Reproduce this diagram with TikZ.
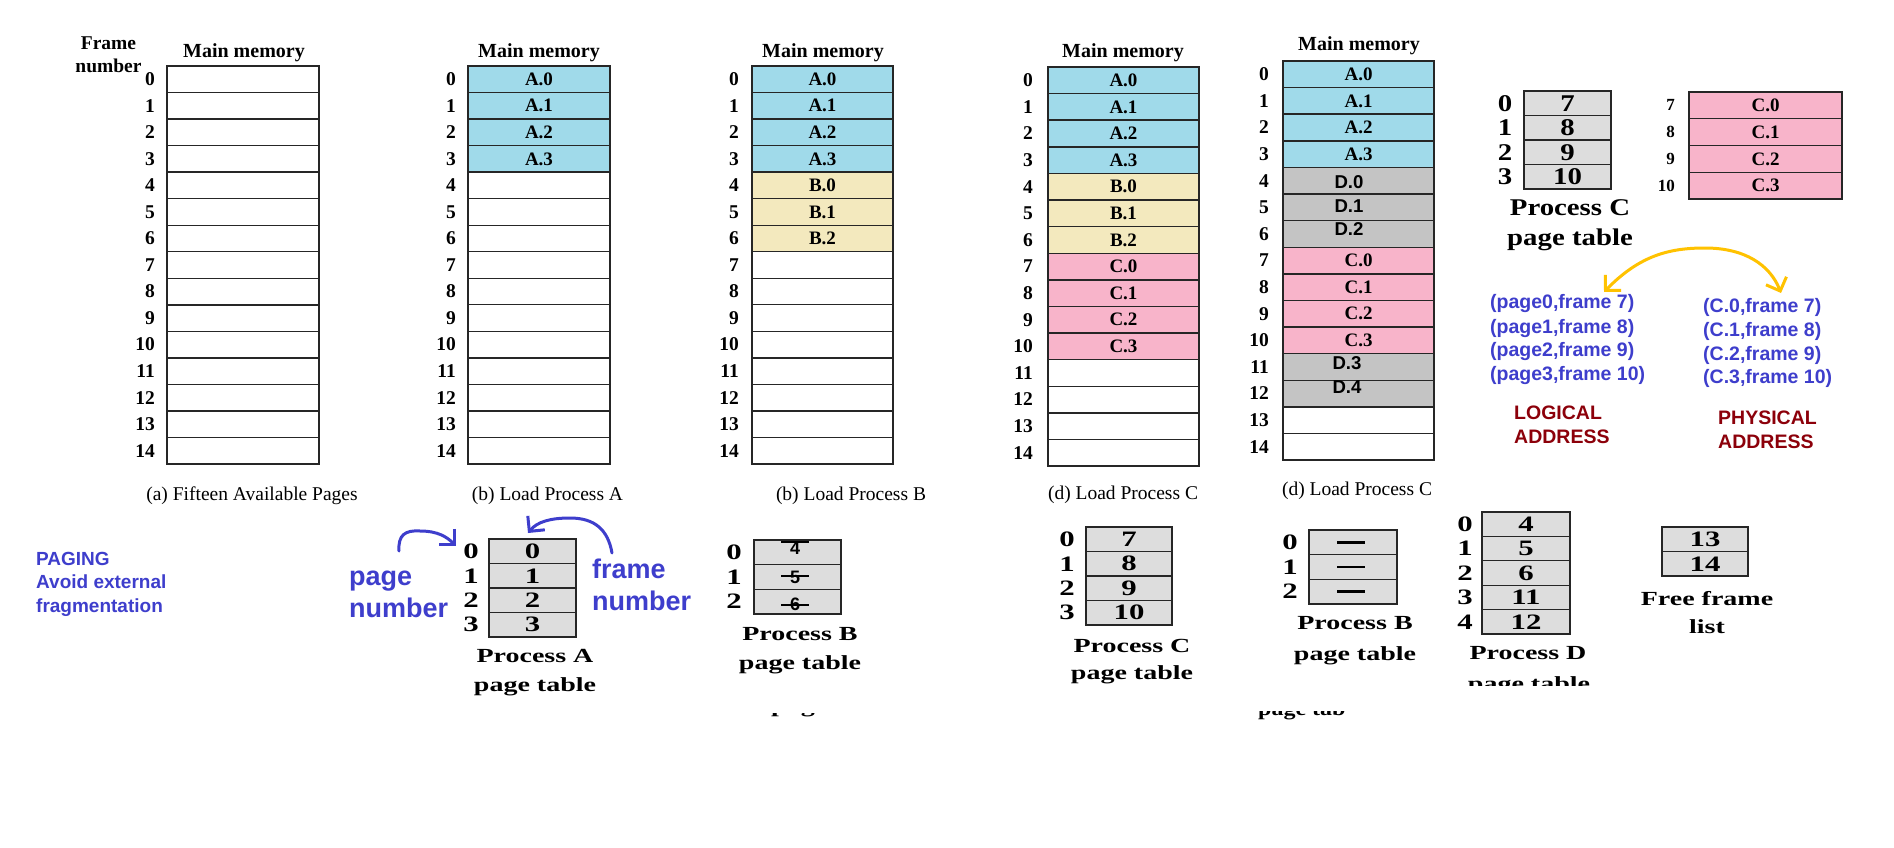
\documentclass[tikz,border=0pt]{standalone}
\usepackage{fontspec}
\setmainfont{Liberation Serif}
\newfontfamily\arialf{Liberation Sans}
\newfontfamily\widef[FakeStretch=1.4]{Liberation Serif}
\newfontfamily\midf[FakeStretch=1.2]{Liberation Serif}
\usetikzlibrary{arrows.meta}
\definecolor{cA}{RGB}{160,218,234}
\definecolor{cB}{RGB}{243,233,190}
\definecolor{cC}{RGB}{248,180,202}
\definecolor{cD}{RGB}{196,196,196}
\definecolor{ptg}{RGB}{221,221,221}
\definecolor{hblue}{RGB}{62,62,204}
\definecolor{dred}{RGB}{140,0,10}
\definecolor{hyel}{RGB}{255,194,0}
\newcommand\fs[2]{\fontsize{#1}{#2}\selectfont}
\begin{document}
\begin{tikzpicture}[x=1pt,y=-1pt,
  mem/.style={draw=black!85, line width=1.4pt, inner sep=0pt, minimum height=26.55pt, font=\fs{19}{20}\bfseries},
  num/.style={anchor=east, inner sep=0pt, font=\fs{19.5}{20}\bfseries},
  title/.style={font=\fs{20}{22}\bfseries},
  captxt/.style={font=\fs{19.5}{22}},
  pt/.style={draw=black!85, line width=1.3pt, fill=ptg, inner sep=0pt, minimum width=87pt, minimum height=24.5pt, font=\widef\fs{22}{22}\bfseries},
  ptn/.style={inner sep=0pt, font=\widef\fs{22}{22}\bfseries},
  ptl/.style={align=center, font=\widef\fs{20}{29}\bfseries},
  btxt/.style={text=hblue, font=\arialf\bfseries\fs{19.5}{24}, anchor=west, inner sep=0pt, align=left},
  dlab/.style={font=\arialf\bfseries\fs{18.6}{20}, inner sep=0pt},
  barrow/.style={draw=hblue, line width=3pt, line cap=round, -{Straight Barb[length=11pt,width=22pt]}},
  yarrow/.style={draw=hyel, line width=3pt, line cap=round, {Straight Barb[length=11pt,width=22pt]}-{Straight Barb[length=11pt,width=22pt]}}
]
\fill[white] (0,0) rectangle (1894,848);
\useasboundingbox (0,0) rectangle (1894,848);

% ---------- column (a)
\node[title, align=center, font=\fs{19.5}{23}\bfseries] (fn) at (108.5,55) {Frame\\number};
\node[title] (ta) at (244,53) {Main memory};
\foreach \i in {0,...,14}{
  \node[mem, minimum width=152pt] (ma\i) at (243, 79.3+\i*26.53) {};
  \node[num] (na\i) at (155, 79.3+\i*26.53) {\i};
}
\node[captxt] (capa) at (252,496) {(a) Fifteen Available Pages};

% ---------- column (b) A
\node[title] (tb) at (539,53) {Main memory};
\foreach \i in {0,...,14}{
  \ifnum\i<4 \def\mf{cA}\def\mt{A.\i}\else\def\mf{white}\def\mt{}\fi
  \node[mem, fill=\mf, minimum width=142pt] (mb\i) at (539, 79.3+\i*26.53) {\mt};
  \node[num] (nb\i) at (456, 79.3+\i*26.53) {\i};
}
\node[captxt] (capb) at (547.5,496) {(b) Load Process A};

% ---------- column (b) B
\node[title] (tbb) at (823,53) {Main memory};
\foreach \i in {0,...,14}{
  \pgfmathtruncatemacro\k{\i-4}
  \ifnum\i<4 \def\mf{cA}\def\mt{A.\i}\else\ifnum\i<7 \def\mf{cB}\def\mt{B.\k}\else\def\mf{white}\def\mt{}\fi\fi
  \node[mem, fill=\mf, minimum width=141pt] (mbb\i) at (822.5, 79.3+\i*26.53) {\mt};
  \node[num] (nbb\i) at (739, 79.3+\i*26.53) {\i};
}
\node[captxt] (capbb) at (851,496) {(b) Load Process B};

% ---------- column (d) C
\node[title] (tc) at (1123,53) {Main memory};
\foreach \i in {0,...,14}{
  \pgfmathtruncatemacro\k{\i-4}
  \pgfmathtruncatemacro\kk{\i-7}
  \ifnum\i<4 \def\mf{cA}\def\mt{A.\i}\else\ifnum\i<7 \def\mf{cB}\def\mt{B.\k}\else\ifnum\i<11 \def\mf{cC}\def\mt{C.\kk}\else\def\mf{white}\def\mt{}\fi\fi\fi
  \node[mem, fill=\mf, minimum width=151pt, minimum height=26.6pt] (mc\i) at (1123.5, 80.3+\i*26.6) {\mt};
  \node[num] (nc\i) at (1033, 80.3+\i*26.6) {\i};
}
\node[captxt] (capc) at (1123,495) {(d) Load Process C};

% ---------- column (d) D
\node[title] (td) at (1359,46) {Main memory};
\foreach \i in {0,...,14}{
  \pgfmathtruncatemacro\kk{\i-7}
  \ifnum\i<4 \def\mf{cA}\def\mt{A.\i}\else\ifnum\i<7 \def\mf{cD}\def\mt{}\else\ifnum\i<11 \def\mf{cC}\def\mt{C.\kk}\else\ifnum\i<13 \def\mf{cD}\def\mt{}\else\def\mf{white}\def\mt{}\fi\fi\fi\fi
  \node[mem, fill=\mf, minimum width=151pt, minimum height=26.6pt] (md\i) at (1358.5, 74.3+\i*26.6) {\mt};
  \node[num] (nd\i) at (1269, 74.3+\i*26.6) {\i};
}
\node[dlab] (d0) at (1349,182) {D.0};
\node[dlab] (d1) at (1349,206) {D.1};
\node[dlab] (d2) at (1349,229) {D.2};
\node[dlab] (d3) at (1347,363) {D.3};
\node[dlab] (d4) at (1347,387) {D.4};
\node[captxt] (capd) at (1357,491) {(d) Load Process C};

% ---------- top right: process C page table
\foreach \i/\v in {0/7,1/8,2/9,3/10}{
  \node[pt, font=\midf\fs{24}{24}\bfseries] (tpc\i) at (1567.5, 103.25+\i*24.5) {\v};
  \node[ptn, font=\midf\fs{24}{24}\bfseries] (tpn\i) at (1505, 103.25+\i*24.5) {\i};
}
\node[ptl, font=\midf\fs{24}{30}\bfseries] (tpl) at (1570,225) {Process C\\page table};

% ---------- top right: C frames
\foreach \i in {0,...,3}{
  \pgfmathtruncatemacro\f{\i+7}
  \node[mem, fill=cC, minimum width=153pt, minimum height=26.75pt] (tcc\i) at (1765.5, 105.4+\i*26.75) {C.\i};
  \node[num, font=\fs{17}{18}\bfseries] (tcn\i) at (1675, 105.4+\i*26.75) {\f};
}

% ---------- logical / physical
\coordinate (ya) at (1604,292);
\coordinate (yb) at (1781,293);
\draw[yarrow] (ya) .. controls (1640,255) and (1670,248) .. (1705,248) .. controls (1745,248) and (1770,265) .. (yb);
\foreach \i/\y in {0/303,1/328,2/351,3/375}{
  \pgfmathtruncatemacro\f{\i+7}
  \node[btxt] (lg\i) at (1490,\y) {(page\i,frame \f)};
}
\foreach \i/\y in {0/307,1/331,2/355,3/378}{
  \pgfmathtruncatemacro\f{\i+7}
  \node[btxt] (ph\i) at (1703,\y) {(C.\i,frame \f)};
}
\node[btxt, text=dred] (lgl) at (1514,425) {LOGICAL\\ADDRESS};
\node[btxt, text=dred] (phl) at (1718,430) {PHYSICAL\\ADDRESS};

% ---------- PAGING note
\node[btxt, font=\arialf\bfseries\fs{19}{23.5}] (paging) at (36,584) {PAGING\\Avoid external\\fragmentation};

% ---------- process A page table
\foreach \i in {0,...,3}{
  \node[pt] (pa\i) at (532.5, 551.25+\i*24.5) {\i};
  \node[ptn] (pan\i) at (471, 551.25+\i*24.5) {\i};
}
\node[ptl] (pal) at (535,673) {Process A\\page table};
\node[btxt, font=\arialf\bfseries\fs{27}{32}] (pnum) at (349,594) {page\\number};
\node[btxt, font=\arialf\bfseries\fs{27}{32}] (fnum) at (592,585) {frame\\number};
\coordinate (pnA) at (399,551);
\coordinate (pnB) at (456,546);
\draw[barrow] (pnA) .. controls (398,535) and (405,530) .. (420,531) .. controls (438,531) and (447,537) .. (pnB);
\coordinate (fnA) at (612,553);
\coordinate (fnB) at (528,533);
\draw[barrow] (fnA) .. controls (608,530) and (595,518) .. (570,518) .. controls (550,518) and (537,522) .. (fnB);

% ---------- process B page table (crossed)
\foreach \i in {0,...,2}{
  \node[pt, minimum height=24.67pt] (pb\i) at (797.5, 552.33+\i*24.67) {};
  \node[ptn] (pbn\i) at (734, 552.33+\i*24.67) {\i};
}
\node[dlab, font=\arialf\bfseries\fs{18}{18}] (pbv0) at (795,548) {4};
\node[dlab, font=\arialf\bfseries\fs{18}{18}] (pbv1) at (795,577) {5};
\node[dlab, font=\arialf\bfseries\fs{18}{18}] (pbv2) at (795,604) {6};
\draw[line width=1.6pt] ([xshift=-14pt,yshift=6pt]pbv0.center) -- ++(28,0);
\draw[line width=1.6pt] ([xshift=-14pt,yshift=1pt]pbv1.center) -- ++(28,0);
\draw[line width=1.6pt] ([xshift=-14pt,yshift=-1pt]pbv2.center) -- ++(28,0);
\node[ptl] (pbl) at (800,651) {Process B\\page table};

% ---------- process C page table
\foreach \i/\v in {0/7,1/8,2/9,3/10}{
  \node[pt, minimum width=86pt] (pc\i) at (1129, 539.25+\i*24.5) {\v};
  \node[ptn] (pcn\i) at (1067, 539.25+\i*24.5) {\i};
}
\node[ptl, font=\widef\fs{20}{27}\bfseries] (pcl) at (1132,662) {Process C\\page table};

% ---------- process B page table (empty)
\foreach \i in {0,...,2}{
  \node[pt, minimum width=88pt, minimum height=24.67pt] (pq\i) at (1353, 542.33+\i*24.67) {};
  \node[ptn] (pqn\i) at (1290, 542.33+\i*24.67) {\i};
  \draw[line width=2.5pt] ([xshift=-16pt]pq\i.center) -- ([xshift=12pt]pq\i.center);
}
\node[ptl, font=\widef\fs{20}{31}\bfseries] (pql) at (1355,641) {Process B\\page table};

% ---------- process D page table
\foreach \i/\v in {0/4,1/5,2/6,3/11,4/12}{
  \node[pt, minimum width=88pt, minimum height=24.4pt] (pd\i) at (1526, 524.2+\i*24.4) {\v};
  \node[ptn] (pdn\i) at (1465, 524.2+\i*24.4) {\i};
}
\node[ptl] (pdl) at (1528,653) {Process D};
\begin{scope}
  \clip (1440,660) rectangle (1620,685);
  \node[ptl, anchor=base] (pdl2) at (1529,690) {page table};
\end{scope}

% ---------- free frame list
\foreach \i/\v in {0/13,1/14}{
  \node[pt, minimum width=86pt] (ff\i) at (1705, 539.25+\i*24.5) {\v};
}
\node[ptl, font=\widef\fs{20}{28}\bfseries] (ffl) at (1707,613) {Free frame\\list};

% ---------- cropped fragments
\begin{scope}
  \clip (755,713) rectangle (840,728);
  \node[ptl, anchor=base west, inner sep=0pt] (frag1) at (771,712) {page table};
\end{scope}
\begin{scope}
  \clip (1250,711) rectangle (1345,719);
  \node[ptl, anchor=base west, inner sep=0pt, font=\midf\fs{20}{20}\bfseries] (frag2) at (1258,715) {page tab};
\end{scope}
\end{tikzpicture}
\end{document}
